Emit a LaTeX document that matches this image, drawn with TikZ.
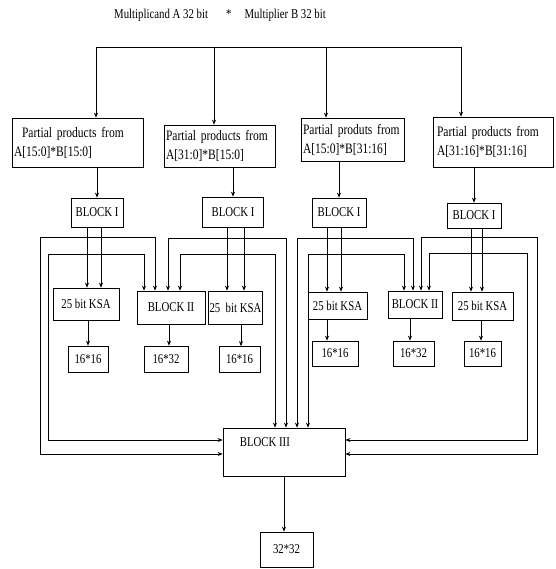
\documentclass[tikz,border=0pt]{standalone}
\usepackage{fontspec}
\setmainfont[FakeStretch=0.8]{Liberation Serif}
\usetikzlibrary{positioning, arrows.meta}

\begin{document}
\begin{tikzpicture}[
    x=1pt, y=-1pt,
    font=\fontsize{13.5}{18}\selectfont,
    box/.style={rectangle, draw=black, line width=0.7pt, inner sep=1pt, align=center},
    ppbox/.style={box, align=left, inner xsep=2pt, font=\fontsize{14.4}{19}\selectfont},
    arrow/.style={-{Stealth[length=5pt, width=4pt]}, line width=0.7pt}
]
    \useasboundingbox (0,0) rectangle (555,569);

    \node (title) at (220,15) {Multiplicand A 32 bit\hspace{18pt}*\hspace{13pt}Multiplier B 32 bit};

    % partial products
    \node[ppbox, text width=127pt, minimum height=49pt] (pp1) at (77.5,142.5) {\hspace*{8pt}Partial products from\\A[15:0]*B[15:0]};
    \node[ppbox, text width=107pt, minimum height=42pt] (pp2) at (219.5,146) {Partial products from\\A[31:0]*B[15:0]};
    \node[ppbox, text width=99pt, minimum height=43pt] (pp3) at (352.5,139.5) {Partial produts from\\A[15:0]*B[31:16]};
    \node[ppbox, text width=116pt, minimum height=50pt] (pp4) at (493,142) {\hspace*{2pt}Partial products from\\\hspace*{2pt}A[31:16]*B[31:16]};

    % block I
    \node[box, minimum width=52pt, minimum height=29pt] (bi1) at (97,212.5) {BLOCK I};
    \node[box, minimum width=61pt, minimum height=30pt] (bi2) at (233,212) {BLOCK I};
    \node[box, minimum width=54pt, minimum height=29pt] (bi3) at (339,212.5) {BLOCK I};
    \node[box, minimum width=54pt, minimum height=25pt] (bi4) at (474,215.5) {BLOCK I};

    % adders and block II
    \node[box, minimum width=66pt, minimum height=32pt] (ksa1) at (86,304) {25 bit KSA};
    \node[box, minimum width=68pt, minimum height=33pt] (bii1) at (171,307.5) {BLOCK II};
    \node[box, minimum width=51pt, minimum height=33pt] (ksa2) at (235.5,307.5) {25\ \ bit KSA};
    \node[box, minimum width=59pt, minimum height=27pt] (ksa3) at (337.5,305.5) {25 bit KSA};
    \node[box, minimum width=54pt, minimum height=27pt] (bii2) at (415,304.5) {BLOCK II};
    \node[box, minimum width=61pt, minimum height=28pt] (ksa4) at (482.5,306) {25 bit KSA};

    % outputs
    \node[box, minimum width=40pt, minimum height=26pt] (o1) at (88,359) {16*16};
    \node[box, minimum width=44pt, minimum height=26pt] (o2) at (166,359) {16*32};
    \node[box, minimum width=41pt, minimum height=26pt] (o3) at (239.5,359.5) {16*16};
    \node[box, minimum width=46pt, minimum height=25pt] (o4) at (335,353.5) {16*16};
    \node[box, minimum width=41pt, minimum height=25pt] (o5) at (413.5,353.5) {16*32};
    \node[box, minimum width=37pt, minimum height=25pt] (o6) at (482.5,353.5) {16*16};

    % block III
    \node[box, minimum width=122pt, minimum height=48pt,
          label={[anchor=west, inner sep=0pt, xshift=17pt, yshift=-14pt]north west:BLOCK III}] (b3) at (284,452) {};
    \node[box, minimum width=53pt, minimum height=35pt] (out) at (286.5,549.5) {32*32};

    % input bus
    \coordinate (d1) at (96,47);
    \coordinate (d2) at (214,47);
    \coordinate (d3) at (326,47);
    \coordinate (d4) at (461,47);
    \draw[line width=0.7pt] (d1) -- (d4);
    \draw[arrow] (d1) -- (d1 |- pp1.north);
    \draw[arrow] (d2) -- (d2 |- pp2.north);
    \draw[arrow] (d3) -- (d3 |- pp3.north);
    \draw[arrow] (d4) -- (d4 |- pp4.north);

    \draw[arrow] (pp1.south -| bi1.north) -- (bi1.north);
    \draw[arrow] (pp2.south -| bi2.north) -- (bi2.north);
    \draw[arrow] (pp3.south -| bi3.north) -- (bi3.north);
    \draw[arrow] (pp4.south -| bi4.north) -- (bi4.north);

    \foreach \n/\k/\s in {bi1/ksa1/-10pt, bi1/ksa1/4pt, bi2/ksa2/-6pt, bi2/ksa2/11pt,
                          bi3/ksa3/-12pt, bi3/ksa3/2pt, bi4/ksa4/-3pt, bi4/ksa4/8pt}
        \draw[arrow] ([xshift=\s]\n.south) -- ([xshift=\s]\n.south |- \k.north);

    \foreach \a/\b/\s in {ksa1/o1/2pt, bii1/o2/-2pt, ksa2/o3/5.5pt,
                          ksa3/o4/-10.5pt, bii2/o5/-5pt, ksa4/o6/-1.5pt}
        \draw[arrow] ([xshift=\s]\a.south) -- ([xshift=\s]\a.south |- \b.north);

    % buses from block I
    \coordinate (o1l) at (40,237);   \coordinate (o1r) at (155,237);
    \coordinate (i1l) at (48,254);   \coordinate (i1r) at (144,254);
    \coordinate (o2l) at (168,238);  \coordinate (o2r) at (286,238);
    \coordinate (i2l) at (180,254);  \coordinate (i2r) at (275,254);
    \coordinate (o3l) at (297,238);  \coordinate (o3r) at (413,238);
    \coordinate (i3l) at (308,254);  \coordinate (i3r) at (404,254);
    \coordinate (o4l) at (421,237);  \coordinate (o4r) at (537,237);
    \coordinate (i4l) at (429,253);  \coordinate (i4r) at (527,253);

    \draw[arrow] (o1l) -- (o1r) -- (o1r |- bii1.north);
    \draw[arrow] (o1l) |- ([yshift=-2pt]b3.west);
    \draw[arrow] (i1l) -- (i1r) -- (i1r |- bii1.north);
    \draw[arrow] (i1l) |- ([yshift=12pt]b3.west);

    \draw[arrow] (o2r) -- (o2l) -- (o2l |- bii1.north);
    \draw[arrow] (o2r) -- (o2r |- b3.north);
    \draw[arrow] (i2r) -- (i2l) -- (i2l |- bii1.north);
    \draw[arrow] (i2r) -- (i2r |- b3.north);

    \draw[arrow] (o3l) -- (o3r) -- (o3r |- bii2.north);
    \draw[arrow] (o3l) -- (o3l |- b3.north);
    \draw[arrow] (i3l) -- (i3r) -- (i3r |- bii2.north);
    \draw[arrow] (i3l) -- (i3l |- b3.north);

    \draw[arrow] (o4r) -- (o4l) -- (o4l |- bii2.north);
    \draw[arrow] (o4r) |- ([yshift=-2pt]b3.east);
    \draw[arrow] (i4r) -- (i4l) -- (i4l |- bii2.north);
    \draw[arrow] (i4r) |- ([yshift=12pt]b3.east);

    \draw[arrow] (b3.south) -- (b3.south |- out.north);
\end{tikzpicture}
\end{document}
